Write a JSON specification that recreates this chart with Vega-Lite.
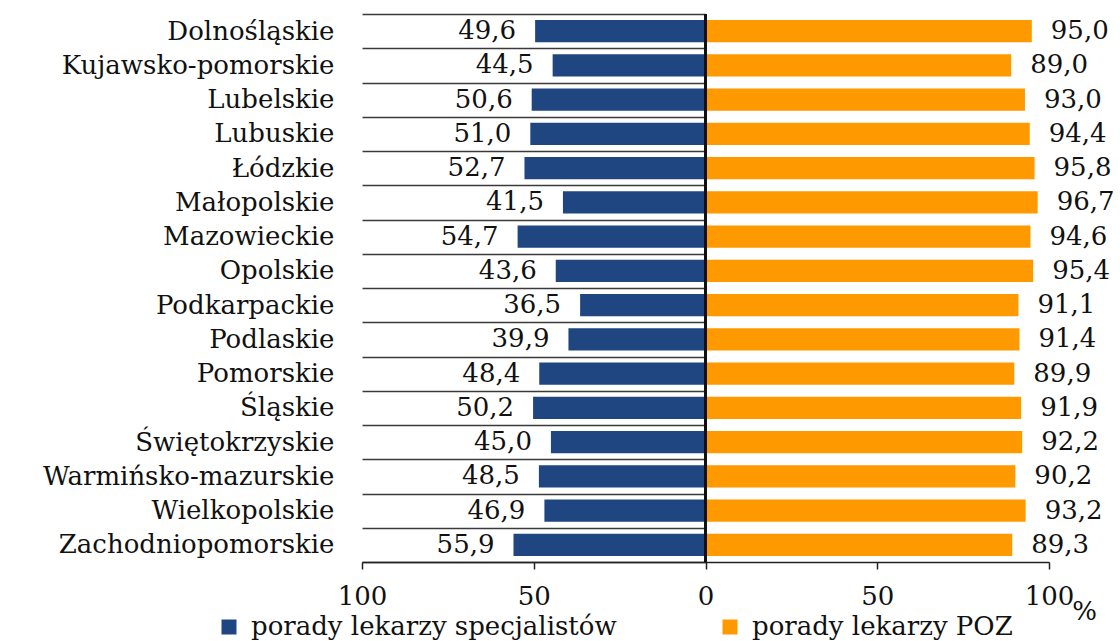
{
  "$schema": "https://vega.github.io/schema/vega-lite/v6.json",
  "width": 687,
  "height": 548,
  "autosize": {"type": "none"},
  "padding": {"left": 362, "top": 14, "right": 71, "bottom": 79},
  "background": "white",
  "config": {
    "locale": {"number": {"decimal": ",", "thousands": " ", "grouping": [3], "currency": ["", " zł"]}},
    "view": {"stroke": null},
    "font": "DejaVu Serif",
    "text": {"font": "DejaVu Serif", "fontSize": 26, "color": "#111111"},
    "axis": {"labelFont": "DejaVu Serif", "labelFontSize": 26, "labelColor": "#111111", "titleFont": "DejaVu Serif", "titleColor": "#111111"}
  },
  "data": {
    "values": [
      {"region": "Dolnośląskie", "spec": 49.6, "poz": 95.0},
      {"region": "Kujawsko-pomorskie", "spec": 44.5, "poz": 89.0},
      {"region": "Lubelskie", "spec": 50.6, "poz": 93.0},
      {"region": "Lubuskie", "spec": 51.0, "poz": 94.4},
      {"region": "Łódzkie", "spec": 52.7, "poz": 95.8},
      {"region": "Małopolskie", "spec": 41.5, "poz": 96.7},
      {"region": "Mazowieckie", "spec": 54.7, "poz": 94.6},
      {"region": "Opolskie", "spec": 43.6, "poz": 95.4},
      {"region": "Podkarpackie", "spec": 36.5, "poz": 91.1},
      {"region": "Podlaskie", "spec": 39.9, "poz": 91.4},
      {"region": "Pomorskie", "spec": 48.4, "poz": 89.9},
      {"region": "Śląskie", "spec": 50.2, "poz": 91.9},
      {"region": "Świętokrzyskie", "spec": 45.0, "poz": 92.2},
      {"region": "Warmińsko-mazurskie", "spec": 48.5, "poz": 90.2},
      {"region": "Wielkopolskie", "spec": 46.9, "poz": 93.2},
      {"region": "Zachodniopomorskie", "spec": 55.9, "poz": 89.3}
    ]
  },
  "layer": [
    {
      "layer": [
        {
          "mark": {"type": "bar", "height": {"band": 0.65}},
          "encoding": {
            "y": {
              "field": "region", "type": "nominal", "sort": null,
              "scale": {"paddingInner": 0, "paddingOuter": 0},
              "axis": {"title": null, "ticks": false, "domain": false, "grid": true, "tickBand": "extent", "gridColor": "#3a3a3a", "gridWidth": 1.6, "labelPadding": 28, "labelLimit": 500}
            },
            "x": {
              "field": "spec", "type": "quantitative",
              "scale": {"domain": [0, 100], "range": [343.5, 0], "nice": false, "zero": true},
              "axis": {"orient": "bottom", "values": [50, 100], "format": "d", "title": null, "grid": false, "tickSize": 7, "tickColor": "#222222", "tickWidth": 1.5, "domainColor": "#222222", "domainWidth": 1.6, "labelFlush": false, "labelOverlap": false, "labelPadding": 14}
            },
            "x2": {"datum": 0},
            "color": {
              "datum": "porady lekarzy specjalistów",
              "scale": {"domain": ["porady lekarzy specjalistów", "porady lekarzy POZ"], "range": ["#1F4681", "#FF9900"]},
              "legend": {"title": null, "orient": "none", "legendX": -146, "legendY": 600, "direction": "horizontal", "columns": 2, "columnPadding": 100, "padding": 0, "symbolType": "square", "symbolSize": 225, "symbolStrokeWidth": 0, "labelFont": "DejaVu Serif", "labelFontSize": 26, "labelColor": "#111111", "labelLimit": 600, "labelOffset": 9}
            }
          }
        },
        {
          "mark": {"type": "text", "align": "right", "baseline": "middle", "dx": -19},
          "encoding": {
            "y": {"field": "region", "type": "nominal", "sort": null},
            "x": {"field": "spec", "type": "quantitative"},
            "text": {"field": "spec", "type": "quantitative", "format": ".1f"}
          }
        }
      ]
    },
    {
      "layer": [
        {
          "mark": {"type": "bar", "height": {"band": 0.65}},
          "encoding": {
            "y": {"field": "region", "type": "nominal", "sort": null},
            "x": {
              "field": "poz", "type": "quantitative",
              "scale": {"domain": [0, 100], "range": [343.5, 687], "nice": false, "zero": true},
              "axis": {"orient": "bottom", "values": [0, 50, 100], "format": "d", "title": "%", "titleX": 722, "titleY": 36, "titleBaseline": "top", "titleAlign": "center", "titleAnchor": null, "titleFontSize": 26, "titleFontWeight": "normal", "grid": false, "tickSize": 7, "tickColor": "#222222", "tickWidth": 1.5, "domainColor": "#222222", "domainWidth": 1.6, "labelFlush": false, "labelOverlap": false, "labelPadding": 14}
            },
            "x2": {"datum": 0},
            "color": {"datum": "porady lekarzy POZ"}
          }
        },
        {
          "mark": {"type": "text", "align": "left", "baseline": "middle", "dx": 19},
          "encoding": {
            "y": {"field": "region", "type": "nominal", "sort": null},
            "x": {"field": "poz", "type": "quantitative"},
            "text": {"field": "poz", "type": "quantitative", "format": ".1f"}
          }
        },
        {
          "mark": {"type": "rule", "color": "#111111", "strokeWidth": 1.5},
          "encoding": {"x": {"datum": 0}}
        }
      ]
    }
  ],
  "resolve": {"scale": {"x": "independent"}}
}
